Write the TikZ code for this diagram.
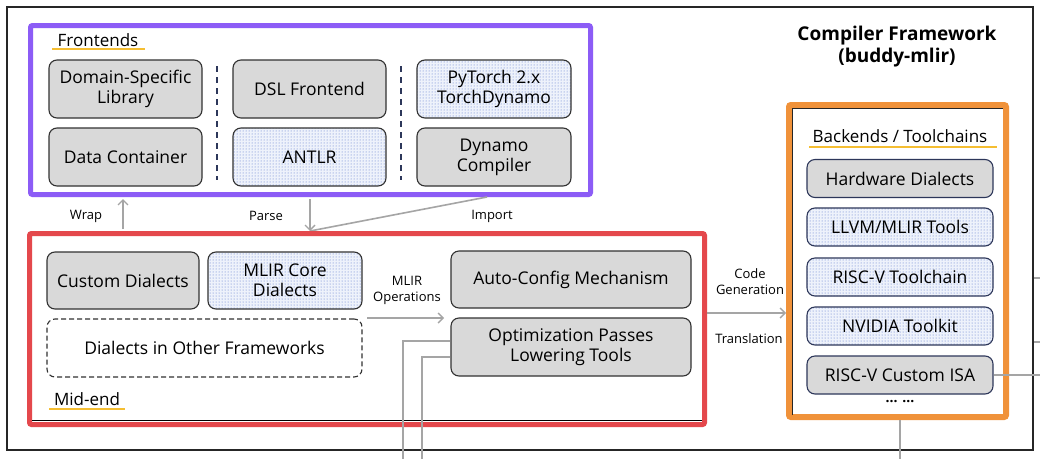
\documentclass[tikz,border=0pt]{standalone}
\usepackage{fontspec}
\setmainfont{Open Sans}
\usetikzlibrary{arrows.meta,patterns}
\definecolor{boxgray}{RGB}{217,217,217}
\definecolor{edgedark}{RGB}{50,50,50}
\definecolor{navy}{RGB}{45,55,90}
\definecolor{dotblue}{RGB}{80,110,200}
\definecolor{bluebase}{RGB}{238,242,251}
\definecolor{purpleframe}{RGB}{140,92,246}
\definecolor{redframe}{RGB}{228,72,76}
\definecolor{orangeframe}{RGB}{240,146,58}
\definecolor{underl}{RGB}{245,190,50}
\definecolor{linegray}{RGB}{165,165,165}
\tikzset{
  bx/.style={rounded corners=8pt, line width=1.1pt, align=center, inner sep=0pt,
    font=\fontsize{17.5}{20}\selectfont},
  gbox/.style={bx, draw=edgedark, fill=boxgray},
  dbox/.style={bx, draw=edgedark, preaction={fill=bluebase}, pattern=dots, pattern color=dotblue},
  bgbox/.style={bx, draw=navy, fill=boxgray},
  bdbox/.style={bx, draw=navy, preaction={fill=bluebase}, pattern=dots, pattern color=dotblue},
  lbl/.style={inner sep=0pt, align=center, font=\fontsize{13}{16}\selectfont},
  seclbl/.style={inner sep=0pt, font=\fontsize{17}{20}\selectfont},
  conn/.style={draw=linegray, line width=1.6pt},
  arr/.style={conn, -{Straight Barb[length=5pt,width=10pt,line width=1.4pt]}},
  thin/.style={draw=linegray, line width=1.1pt},
  uline/.style={draw=underl, line width=2pt},
  sep/.style={draw=navy, line width=1.5pt, dash pattern=on 6pt off 5pt},
}
\begin{document}
\begin{tikzpicture}[x=1pt,y=-1pt]
\useasboundingbox (0,0) rectangle (1040,458);
\fill[white] (0,0) rectangle (1040,458);
% outer frame
\draw[line width=1.4pt, black!85] (7,7) rectangle (1033,450);

% ---------- Frontends ----------
\draw[purpleframe, line width=5pt, rounded corners=2pt] (30.5,25.5) rectangle (590.5,194.5);
\node[seclbl] (felbl) at (98,40) {Frontends};
\draw[uline] (52,49) -- (145,49);
\node[gbox, minimum width=153pt, minimum height=58pt] (dsl) at (125.5,89) {Domain-Specific\\Library};
\node[gbox, minimum width=153pt, minimum height=58pt] (dc) at (125.5,157) {Data Container};
\node[gbox, minimum width=153pt, minimum height=58pt] (dslf) at (309.5,89) {DSL Frontend};
\node[dbox, minimum width=153pt, minimum height=58pt] (antlr) at (309.5,157) {ANTLR};
\node[dbox, minimum width=154pt, minimum height=58pt] (pyt) at (494,89) {PyTorch 2.x\\TorchDynamo};
\node[gbox, minimum width=154pt, minimum height=58pt] (dyn) at (494,157) {Dynamo\\Compiler};
\draw[sep] (217,66) -- (217,180);
\draw[sep] (401,66) -- (401,180);

% ---------- connectors between frontends and mid-end ----------
\coordinate (wrapS) at (123,229);
\coordinate (wrapE) at (123,199);
\coordinate (parseS) at (310,199);
\coordinate (parseE) at (310,231);
\coordinate (impS) at (487,197);
\draw[arr] (wrapS) -- (wrapE);
\draw[arr] (parseS) -- (parseE);
\draw[conn] (impS) -- (parseE);
\node[lbl] (wrap) at (86,216) {Wrap};
\node[lbl] (parse) at (266,216) {Parse};
\node[lbl] (import) at (492,216) {Import};

% ---------- Mid-end ----------
\draw[redframe, line width=5pt, rounded corners=2pt] (29.5,233.5) rectangle (704.5,424.5);
\draw[black, line width=1pt] (32,420) -- (702,420);
\node[gbox, minimum width=152pt, minimum height=57pt] (cd) at (123,280.5) {Custom Dialects};
\node[dbox, minimum width=154pt, minimum height=57pt] (mcd) at (285,280.5) {MLIR Core\\Dialects};
\node[bx, draw=edgedark, fill=white, dashed, dash pattern=on 5pt off 3pt, minimum width=315pt, minimum height=58pt] (dof) at (204.5,348) {Dialects in Other Frameworks};
\node[seclbl] (melbl) at (87,399) {Mid-end};
\draw[uline] (49,409) -- (125,409);
\node[gbox, minimum width=240pt, minimum height=57pt] (acm) at (571,279.5) {Auto-Config Mechanism};
\node[gbox, minimum width=240pt, minimum height=58pt] (opt) at (571,347) {Optimization Passes\\Lowering Tools};
\coordinate (mopS) at (367,318);
\coordinate (mopE) at (444,318);
\draw[arr] (mopS) -- (mopE);
\node[lbl] (mop) at (407,290) {MLIR\\Operations};

% lines leaving Optimization box
\coordinate (d1) at (403,460);
\coordinate (d2) at (422,460);
\draw[thin] ([yshift=6pt]opt.west) -| (d1);
\draw[thin] ([yshift=-10pt]opt.west) -| (d2);

% ---------- Backends ----------
\draw[orangeframe, line width=6pt, rounded corners=2pt] (789,105) rectangle (1006,417);
\draw[black!85, line width=1pt] (792,415) -- (792,108) -- (1003,108);
\node[seclbl] (belbl) at (900,136) {Backends / Toolchains};
\draw[uline] (809,146.5) -- (997,146.5);
\node[bgbox, minimum width=186pt, minimum height=38pt] (hd) at (900,178.5) {Hardware Dialects};
\node[bdbox, minimum width=186pt, minimum height=38pt] (llvm) at (900,227) {LLVM/MLIR Tools};
\node[bdbox, minimum width=186pt, minimum height=38pt] (rvt) at (900,277) {RISC-V Toolchain};
\node[bdbox, minimum width=186pt, minimum height=38pt] (nv) at (900,326) {NVIDIA Toolkit};
\node[bgbox, minimum width=186pt, minimum height=38pt] (isa) at (900,375) {RISC-V Custom ISA};
\node[inner sep=0pt, font=\fontsize{14}{16}\bfseries] (more) at (900,402) {... ...};

% code generation arrow
\coordinate (cgS) at (707,313);
\coordinate (cgE) at (786,313);
\draw[arr] (cgS) -- (cgE);
\node[lbl] (cg) at (750,282) {Code\\Generation};
\node[lbl] (tr) at (749,339) {Translation};

% lines on the right / bottom
\coordinate (r1) at (1042,375);
\coordinate (r2a) at (1034,278);
\coordinate (r2b) at (1042,278);
\coordinate (r3a) at (1034,342);
\coordinate (r3b) at (1042,342);
\coordinate (bo) at (900,460);
\coordinate (boS) at (900,420);
\draw[thin] (isa.east) -- (r1);
\draw[thin] (r2a) -- (r2b);
\draw[thin] (r3a) -- (r3b);
\draw[thin] (boS) -- (bo);

% title
\node[inner sep=0pt, align=center, font=\fontsize{19}{22}\bfseries] (title) at (897,47) {Compiler Framework\\(buddy-mlir)};
\end{tikzpicture}
\end{document}
